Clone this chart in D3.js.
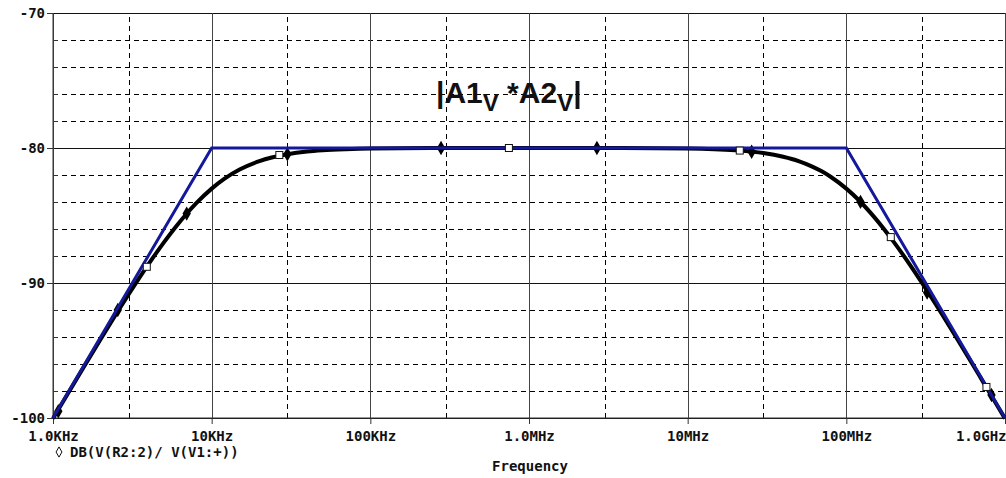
<!DOCTYPE html>
<html>
<head>
<meta charset="utf-8">
<script src="https://cdn.jsdelivr.net/npm/d3@7"></script>
<style>
  html, body { margin: 0; padding: 0; background: #fff; }
  svg { display: block; }
  .mono { font-family: "DejaVu Sans Mono", monospace; font-weight: bold; font-size: 14px; fill: #111; }
</style>
</head>
<body>
<svg id="chart" width="1006" height="478"></svg>
<script>
// ---- data ----
const freqHz = [1e3, 1.5e3, 2e3, 2.5e3, 3e3, 4e3, 5e3, 6e3, 7e3, 8e3, 1e4, 1.2e4, 1.5e4, 2e4, 3e4, 4e4, 5e4, 7e4, 1e5, 3e5, 1e6, 3e6, 1e7, 2e7, 3e7, 4e7, 5e7, 6e7, 7e7, 8e7, 1e8, 1.2e8, 1.5e8, 2e8, 2.5e8, 3e8, 4e8, 5e8, 6e8, 7e8, 8e8, 1e9];
const gainDb = [-100.04, -96.58, -94.15, -92.30, -90.83, -88.60, -86.99, -85.77, -84.83, -84.09, -83.01, -82.29, -81.60, -80.97, -80.46, -80.26, -80.17, -80.09, -80.04, -80.00, -80.00, -80.00, -80.04, -80.17, -80.37, -80.65, -80.97, -81.34, -81.73, -82.15, -83.01, -83.87, -85.12, -86.99, -88.60, -90.00, -92.30, -94.15, -95.68, -96.99, -98.13, -100.04];

const asymFreq = [1e3, 1e4, 1e8, 1e9];
const asymDb = [-100, -80, -80, -100];

const diamondFreq = [1.08e3, 2.56e3, 6.96e3, 3.0e4, 2.79e5, 2.68e6, 2.53e7, 1.228e8, 3.23e8, 8.22e8];
const diamondDb = [-99.5, -92.0, -84.86, -80.46, -80.0, -80.0, -80.28, -83.99, -90.7, -98.3];
const squareFreq = [3.9e3, 2.67e4, 7.47e5, 2.13e7, 1.906e8, 7.64e8];
const squareDb = [-88.8, -80.52, -80.0, -80.19, -86.6, -97.7];

const xTickValues = [1e3, 1e4, 1e5, 1e6, 1e7, 1e8, 1e9];
const xTickLabels = ["1.0KHz", "10KHz", "100KHz", "1.0MHz", "10MHz", "100MHz", "1.0GHz"];
const xMinorValues = [3e3, 3e4, 3e5, 3e6, 3e7, 3e8];
const yTickValues = [-100, -90, -80, -70];
const yTickLabels = ["-100", "-90", "-80", "-70"];
const yMinorValues = [-98, -96, -94, -92, -88, -86, -84, -82, -78, -76, -74, -72];

const titleMain = ["|A1", " *A2", "|"];
const titleSub = "V";
const legendText = "DB(V(R2:2)/ V(V1:+))";
const xAxisTitle = "Frequency";

// ---- layout ----
const L = 53, R = 1005, T = 13, B = 418;
const svg = d3.select("#chart");
const x = d3.scaleLog().domain([1e3, 1e9]).range([L, R]);
const y = d3.scaleLinear().domain([-100, -70]).range([B, T]);

// grid: dashed minor horizontals
const g = svg.append("g");
g.append("g").attr("transform", `translate(${L},0)`)
  .call(d3.axisLeft(y).tickValues(yMinorValues).tickSize(-(R - L)).tickFormat(""))
  .call(s => s.select(".domain").remove())
  .call(s => s.selectAll("line").attr("stroke", "#000").attr("stroke-width", 1).attr("stroke-dasharray", "5,4").attr("shape-rendering", "crispEdges"));
// dashed minor verticals
g.append("g").attr("transform", `translate(0,${B})`)
  .call(d3.axisBottom(x).tickValues(xMinorValues).tickSize(-(B - T)).tickFormat(""))
  .call(s => s.select(".domain").remove())
  .call(s => s.selectAll("line").attr("stroke", "#000").attr("stroke-width", 1).attr("stroke-dasharray", "5,4").attr("shape-rendering", "crispEdges"));
// solid major horizontals
g.append("g").attr("transform", `translate(${L},0)`)
  .call(d3.axisLeft(y).tickValues(yTickValues).tickSize(-(R - L)).tickFormat(""))
  .call(s => s.select(".domain").remove())
  .call(s => s.selectAll("line").attr("stroke", "#111").attr("stroke-width", 1).attr("shape-rendering", "crispEdges"));
// solid major verticals
g.append("g").attr("transform", `translate(0,${B})`)
  .call(d3.axisBottom(x).tickValues(xTickValues).tickSize(-(B - T)).tickFormat(""))
  .call(s => s.select(".domain").remove())
  .call(s => s.selectAll("line").attr("stroke", "#444").attr("stroke-width", 1).attr("shape-rendering", "crispEdges"));

// axes
const yAxis = svg.append("g").attr("transform", `translate(${L},0)`)
  .call(d3.axisLeft(y).tickValues(yTickValues).tickSize(6).tickPadding(2)
    .tickFormat((d, i) => yTickLabels[i]));
yAxis.select(".domain").attr("stroke", "#333").attr("d", `M0,${T}V${B}`);
yAxis.selectAll("line").attr("stroke", "#333");
yAxis.selectAll("text").attr("class", "mono").attr("font-size", null).attr("font-family", null);

svg.append("g").attr("transform", `translate(${L},0)`)
  .call(d3.axisRight(y).tickValues(yMinorValues).tickSize(5).tickFormat(""))
  .call(s => s.select(".domain").remove())
  .call(s => s.selectAll("line").attr("stroke", "#333"));

const xAxis = svg.append("g").attr("transform", `translate(0,${B})`)
  .call(d3.axisBottom(x).tickValues(xTickValues).tickSize(6).tickPadding(7)
    .tickFormat((d, i) => xTickLabels[i]));
xAxis.select(".domain").attr("stroke", "#333").attr("d", `M${L},0H${R}`);
xAxis.selectAll("line").attr("stroke", "#333");
xAxis.selectAll("text").attr("class", "mono").attr("font-size", null).attr("font-family", null)
  .attr("text-anchor", (d, i) => i === xTickValues.length - 1 ? "end" : "middle")
  .attr("x", (d, i) => i === xTickValues.length - 1 ? 1 : 0);

// curve
const curveData = freqHz.map((f, i) => [f, gainDb[i]]);
const line = d3.line().x(d => x(d[0])).y(d => y(d[1])).curve(d3.curveMonotoneX);
svg.append("path").datum(curveData).attr("d", line)
  .attr("fill", "none").attr("stroke", "#000").attr("stroke-width", 4).attr("stroke-linejoin", "round");

// diamond markers
svg.append("g").selectAll("path").data(diamondFreq.map((f, i) => [f, diamondDb[i]])).join("path")
  .attr("transform", d => `translate(${x(d[0])},${y(d[1])})`)
  .attr("d", d3.symbol(d3.symbolDiamond, 60))
  .attr("fill", "#000");

// asymptote
const asymData = asymFreq.map((f, i) => [f, asymDb[i]]);
svg.append("path").datum(asymData).attr("d", d3.line().x(d => x(d[0])).y(d => y(d[1])))
  .attr("fill", "none").attr("stroke", "#14189a").attr("stroke-width", 3).attr("stroke-linejoin", "miter");

// square markers
svg.append("g").selectAll("rect").data(squareFreq.map((f, i) => [f, squareDb[i]])).join("rect")
  .attr("x", d => x(d[0]) - 3.5).attr("y", d => y(d[1]) - 3.5)
  .attr("width", 7).attr("height", 7)
  .attr("fill", "#fff").attr("stroke", "#111").attr("stroke-width", 1);

// title
const title = svg.append("text").attr("x", 436).attr("y", 103)
  .attr("font-family", "Liberation Sans, Arial, sans-serif").attr("font-weight", "bold")
  .attr("font-size", 30).attr("fill", "#111");
title.append("tspan").text(titleMain[0]);
title.append("tspan").attr("dy", 8).attr("font-size", 24).text(titleSub);
title.append("tspan").attr("dy", -8).text(titleMain[1]);
title.append("tspan").attr("dy", 8).attr("font-size", 24).text(titleSub);
title.append("tspan").attr("dy", -8).text(titleMain[2]);

// legend
svg.append("path").attr("transform", "translate(59,452)")
  .attr("d", d3.symbol(d3.symbolDiamond, 30)).attr("fill", "none").attr("stroke", "#111").attr("stroke-width", 1);
svg.append("text").attr("class", "mono").attr("x", 70).attr("y", 457).text(legendText);

// x axis title
svg.append("text").attr("class", "mono").attr("x", 530).attr("y", 471).attr("text-anchor", "middle").text(xAxisTitle);
</script>
</body>
</html>
